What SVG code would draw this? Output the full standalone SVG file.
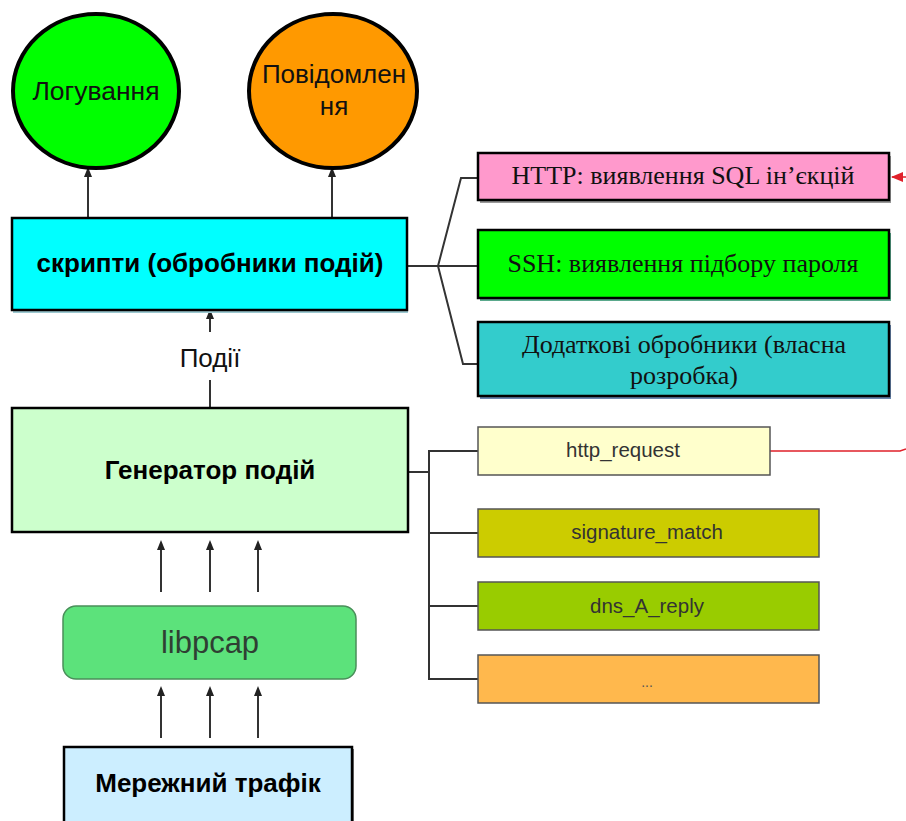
<svg xmlns="http://www.w3.org/2000/svg" width="906" height="821" viewBox="0 0 906 821">
<style>
.sans{font-family:"Liberation Sans",Arial,sans-serif}
.serif{font-family:"Liberation Serif","Times New Roman",serif}
.bold{font-weight:bold;font-size:26px;fill:#000}
.box{stroke:#000;stroke-width:2.5}
.sbox{stroke:#555;stroke-width:1.5}
.ln{stroke:#333;stroke-width:2;fill:none}
.tx{font-size:26px;fill:#111}
.st{font-size:20.5px;fill:#333}
</style>
<defs>
<marker id="ah" markerWidth="10" markerHeight="10" refX="5" refY="5" orient="auto" markerUnits="userSpaceOnUse">
<path d="M0,1 L10,5 L0,9 z" fill="#222"/>
</marker>
<marker id="rh" markerWidth="12" markerHeight="10" refX="11" refY="5" orient="auto" markerUnits="userSpaceOnUse">
<path d="M0,0 L12,5 L0,10 z" fill="#e0202a"/>
</marker>
</defs>
<rect width="906" height="821" fill="#fff"/>

<g id="connectors">
<line class="ln" x1="88" y1="217" x2="88" y2="172" marker-end="url(#ah)"/>
<line class="ln" x1="332" y1="217" x2="332" y2="172" marker-end="url(#ah)"/>
<line class="ln" x1="210" y1="408" x2="210" y2="380"/>
<line class="ln" x1="210" y1="332" x2="210" y2="314" marker-end="url(#ah)"/>
<line class="ln" x1="161" y1="592" x2="161" y2="545" marker-end="url(#ah)"/>
<line class="ln" x1="210" y1="592" x2="210" y2="545" marker-end="url(#ah)"/>
<line class="ln" x1="258" y1="592" x2="258" y2="545" marker-end="url(#ah)"/>
<line class="ln" x1="161" y1="738" x2="161" y2="691" marker-end="url(#ah)"/>
<line class="ln" x1="210" y1="738" x2="210" y2="691" marker-end="url(#ah)"/>
<line class="ln" x1="258" y1="738" x2="258" y2="691" marker-end="url(#ah)"/>
<polyline class="ln" points="407,266 478,266"/>
<polyline class="ln" points="438,266 461,178 478,178"/>
<polyline class="ln" points="438,266 463,364 478,364"/>
<polyline class="ln" points="408,472 429,472"/>
<polyline class="ln" points="478,451 429,451 429,679 478,679"/>
<line class="ln" x1="429" y1="533" x2="478" y2="533"/>
<line class="ln" x1="429" y1="606" x2="478" y2="606"/>
<polyline points="770,451 900,451 906,449" fill="none" stroke="#e0202a" stroke-width="1.5"/>
<line x1="906" y1="177" x2="892" y2="177" stroke="#e0202a" stroke-width="1.5" marker-end="url(#rh)"/>
<text class="sans" x="210" y="367" font-size="26" fill="#111" text-anchor="middle">Події</text>
</g>

<g id="logging">
<ellipse cx="96" cy="91" rx="83" ry="77" fill="#00ff00" stroke="#000" stroke-width="4"/>
<text class="sans" x="96" y="100" font-size="26.5" fill="#111" text-anchor="middle">Логування</text>
</g>
<g id="notify">
<ellipse cx="333" cy="91" rx="84" ry="77" fill="#ff9900" stroke="#000" stroke-width="4"/>
<text class="sans" font-size="26" fill="#111" text-anchor="middle"><tspan x="334" y="83">Повідомлен</tspan><tspan x="334" y="115">ня</tspan></text>
</g>

<g id="scripts">
<rect x="13" y="221" width="395" height="92" fill="#9cc8d0"/>
<rect x="12" y="218" width="395" height="92" fill="#00ffff" class="box"/>
<text class="sans bold" x="210" y="272" text-anchor="middle">скрипти (обробники подій)</text>
</g>

<g id="generator">
<rect x="12" y="408" width="396" height="124" fill="#ccffcc" class="box"/>
<text class="sans bold" x="210" y="479" text-anchor="middle">Генератор подій</text>
</g>

<g id="libpcap">
<rect x="63" y="606" width="293" height="73" rx="13" fill="#5ce27b" stroke="#4a8f5a" stroke-width="1.5"/>
<text class="sans" x="210" y="653" font-size="31" fill="#2f3f33" text-anchor="middle">libpcap</text>
</g>

<g id="traffic">
<rect x="66" y="749" width="288" height="80" fill="#777"/>
<rect x="64" y="747" width="288" height="80" fill="#cceeff" class="box"/>
<text class="sans bold" x="208" y="792" text-anchor="middle">Мережний трафік</text>
</g>

<g id="http-sql">
<rect x="480" y="156" width="411" height="47" fill="#999"/>
<rect x="478" y="153" width="411" height="47" fill="#ff99cc" class="box"/>
<text class="serif tx" x="683" y="184" text-anchor="middle">HTTP: виявлення SQL ін’єкцій</text>
</g>
<g id="ssh">
<rect x="480" y="233" width="411" height="68" fill="#5aa98c"/>
<rect x="478" y="230" width="411" height="68" fill="#00ff00" class="box"/>
<text class="serif tx" x="683" y="272" text-anchor="middle">SSH: виявлення підбору пароля</text>
</g>
<g id="custom">
<rect x="480" y="325" width="411" height="74" fill="#6a87b0"/>
<rect x="478" y="322" width="411" height="74" fill="#33cccc" class="box"/>
<text class="serif tx" text-anchor="middle"><tspan x="684" y="353">Додаткові обробники (власна</tspan><tspan x="684" y="384">розробка)</tspan></text>
</g>

<g id="http-request">
<rect x="478" y="427" width="292" height="48" fill="#ffffcc" class="sbox"/>
<text class="sans st" x="623" y="457" text-anchor="middle">http_request</text>
</g>
<g id="signature-match">
<rect x="478" y="509" width="341" height="48" fill="#cccc00" class="sbox"/>
<text class="sans st" x="647" y="539" text-anchor="middle">signature_match</text>
</g>
<g id="dns-a-reply">
<rect x="478" y="582" width="341" height="48" fill="#99cc00" class="sbox"/>
<text class="sans st" x="647" y="613" text-anchor="middle">dns_A_reply</text>
</g>
<g id="more">
<rect x="478" y="655" width="341" height="48" fill="#ffb84d" class="sbox"/>
<text class="sans" x="647" y="687" font-size="14" fill="#555" text-anchor="middle">...</text>
</g>
</svg>
